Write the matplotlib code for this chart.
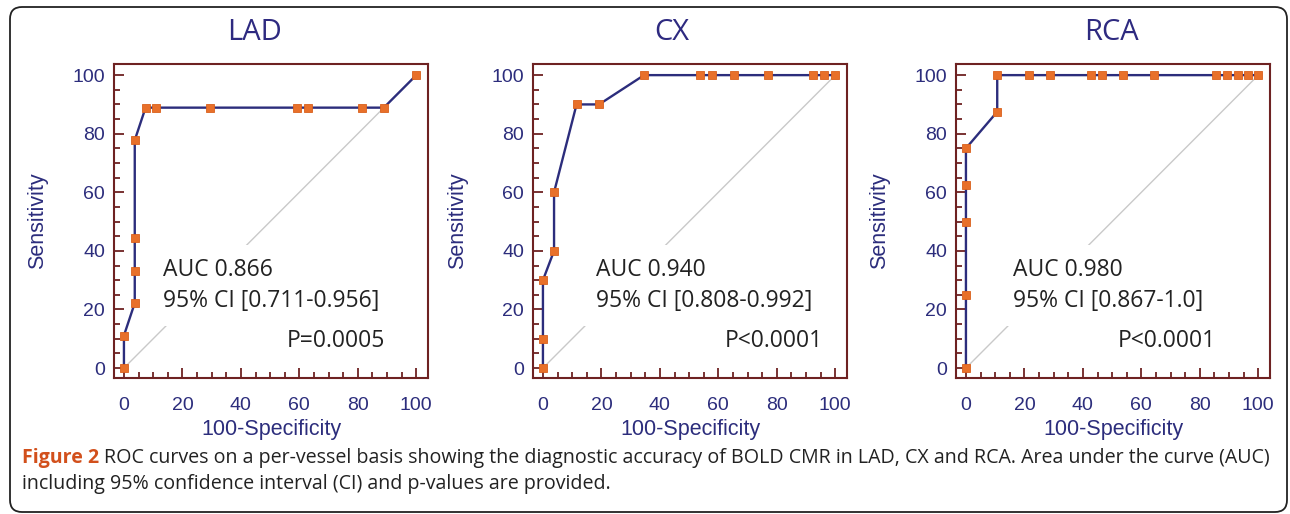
import matplotlib
matplotlib.use("Agg")
import matplotlib.pyplot as plt
from matplotlib.patches import FancyBboxPatch
from matplotlib.ticker import MultipleLocator

# ROC points (100-specificity, sensitivity)
lad_x = [0, 0, 3.7, 3.7, 3.7, 3.7, 7.4, 11.1, 29.6, 59.3, 63.0, 81.5, 88.9, 100]
lad_y = [0, 11.1, 22.2, 33.3, 44.4, 77.8, 88.9, 88.9, 88.9, 88.9, 88.9, 88.9, 88.9, 100]

cx_x = [0, 0, 0, 3.8, 3.8, 11.5, 19.2, 34.6, 53.8, 57.7, 65.4, 76.9, 92.3, 96.2, 100]
cx_y = [0, 10, 30, 40, 60, 90, 90, 100, 100, 100, 100, 100, 100, 100, 100]

rca_x = [0, 0, 0, 0, 0, 10.7, 10.7, 21.4, 28.6, 42.9, 46.4, 53.6, 64.3, 85.7, 89.3, 92.9, 96.4, 100]
rca_y = [0, 25, 50, 62.5, 75, 87.5, 100, 100, 100, 100, 100, 100, 100, 100, 100, 100, 100, 100]

titles = ["LAD", "CX", "RCA"]
auc = ["AUC 0.866", "AUC 0.940", "AUC 0.980"]
ci = ["95% CI [0.711-0.956]", "95% CI [0.808-0.992]", "95% CI [0.867-1.0]"]
pvals = ["P=0.0005", "P<0.0001", "P<0.0001"]
ticks = [0, 20, 40, 60, 80, 100]
caption_bold = "Figure 2"
caption_1 = ("ROC curves on a per-vessel basis showing the diagnostic accuracy of BOLD CMR "
             "in LAD, CX and RCA. Area under the curve (AUC)")
caption_2 = "including 95% confidence interval (CI) and p-values are provided."

W, H = 1290, 514
frame_c = "#6e2222"
navy = "#2c2d7c"
orange = "#e8702a"

fig = plt.figure(figsize=(W / 100, H / 100), dpi=100)

# panel frames in pixels: left edge; each is 314 px square
lefts = [114, 533, 956]
title_x = [254, 672, 1111]
ylabel_x = [38, 458, 880]
text_pos = [(13.5, 89.4), (18.2, 95.9), (16.2, 85.6)]
curves = [(lad_x, lad_y), (cx_x, cx_y), (rca_x, rca_y)]

for i in range(3):
    l = lefts[i]
    ax = fig.add_axes([l / W, 1 - 378 / H, 314 / W, 314 / H])
    xs, ys = curves[i]
    ax.plot([0, 100], [0, 100], color="#c9c9c9", lw=1.0, zorder=1)
    ax.plot(xs, ys, color=navy, lw=1.7, zorder=3,
            marker="s", ms=5.5, mfc=orange, mec="#d9601c", mew=0.6)
    ax.set_xlim(-3.4, 104)
    ax.set_ylim(-3.4, 103.8)
    ax.set_xticks(ticks)
    ax.set_yticks(ticks)
    ax.xaxis.set_minor_locator(MultipleLocator(5))
    ax.yaxis.set_minor_locator(MultipleLocator(5))
    ax.tick_params(which="both", direction="in", color=frame_c, width=1.3,
                   top=False, right=False)
    ax.tick_params(which="major", length=7)
    ax.tick_params(which="minor", length=4)
    ax.tick_params(axis="x", pad=13.5, labelsize=14, labelcolor=navy)
    ax.tick_params(axis="y", pad=6.5, labelsize=14, labelcolor=navy)
    for lab in ax.get_xticklabels() + ax.get_yticklabels():
        lab.set_family("Liberation Sans")
    for sp in ax.spines.values():
        sp.set_color(frame_c)
        sp.set_linewidth(1.5)

    ax.set_xlabel("100-Specificity", fontsize=15.5, color=navy, family="Liberation Sans")
    ax.set_ylabel("Sensitivity", fontsize=15.5, color=navy, family="Liberation Sans")
    ax.xaxis.label.set_va("center")
    ax.yaxis.label.set_va("center")
    ax.xaxis.set_label_coords(0.5, -52 / 314)
    ax.yaxis.set_label_coords(-(l - ylabel_x[i]) / 314, 0.5)

    tx, px = text_pos[i]
    ax.text(tx, 28.2, auc[i] + "\n" + ci[i], ha="left", va="center",
            fontsize=16.5, family="Open Sans", color="#222222", linespacing=1.4,
            zorder=2, bbox=dict(facecolor="white", edgecolor="none", pad=9))
    ax.text(px, 9.1, pvals[i], ha="right", va="center",
            fontsize=16.5, family="Open Sans", color="#222222", zorder=2)

    fig.text(title_x[i] / W, 1 - 33 / H, titles[i], ha="center", va="center",
             fontsize=21, family="Open Sans", color="#2e2a80")

# caption
cap_size = 14.1
t1 = fig.text(22 / W, 1 - 463 / H, caption_bold, ha="left", va="baseline",
              fontsize=cap_size, family="Open Sans", weight="bold", color="#d2501c")
fig.canvas.draw()
bb = t1.get_window_extent()
fig.text((bb.x1 + 5) / W, 1 - 463 / H, caption_1, ha="left", va="baseline",
         fontsize=cap_size, family="Open Sans", color="#222222")
fig.text(22 / W, 1 - 489 / H, caption_2, ha="left", va="baseline",
         fontsize=cap_size, family="Open Sans", color="#222222")

# rounded outer box
box = FancyBboxPatch((0.10, 0.02), 12.77, 5.05, boxstyle="round,pad=0,rounding_size=0.12",
                     transform=fig.dpi_scale_trans, facecolor="none",
                     edgecolor="#222222", lw=1.3)
fig.patches.append(box)

fig.savefig("out.png", dpi=100)
